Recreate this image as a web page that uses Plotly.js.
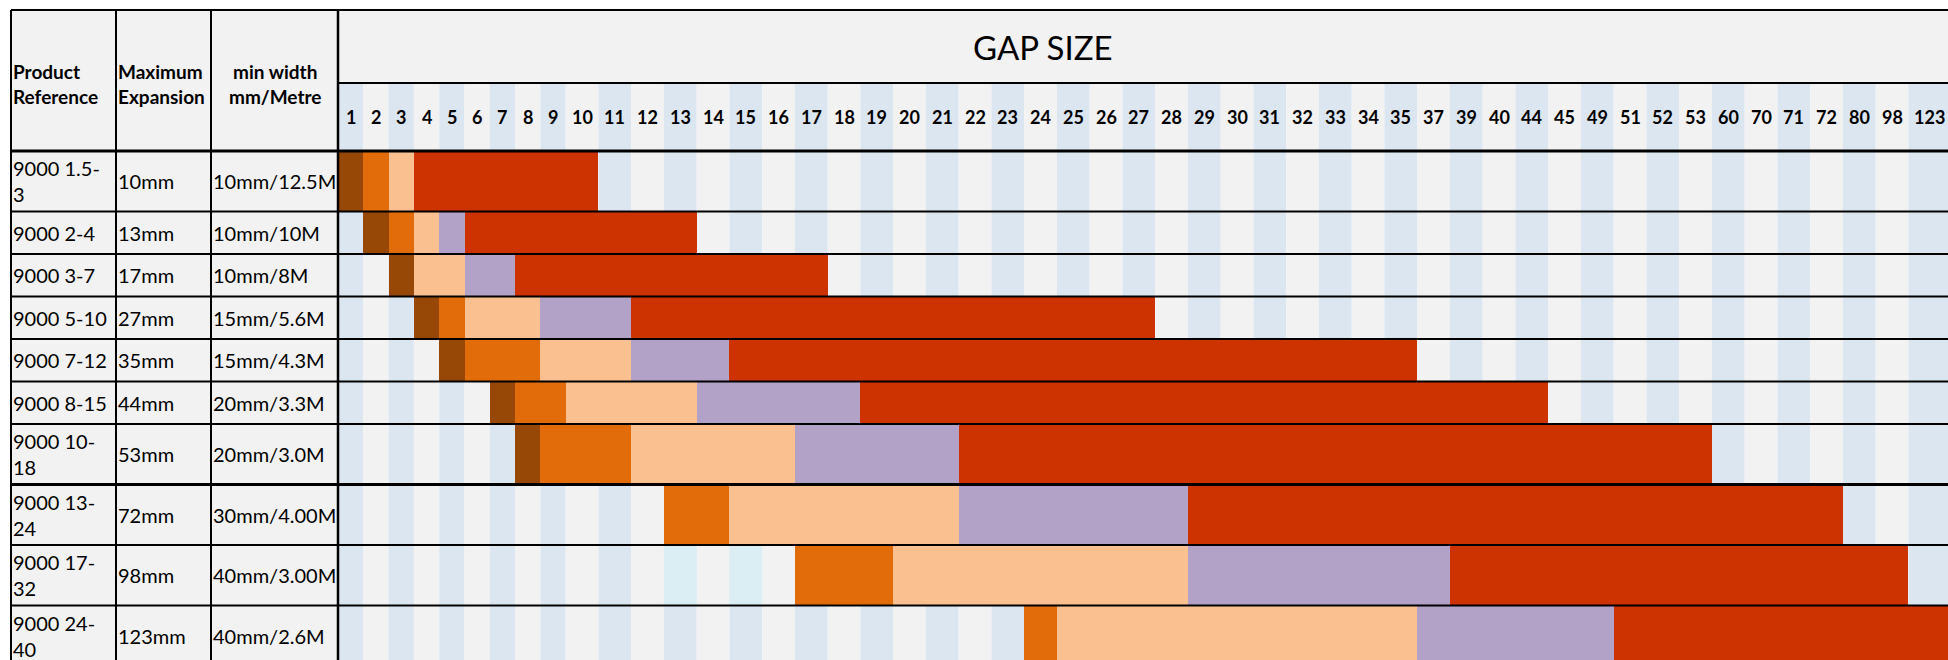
<!DOCTYPE html>
<html>
<head>
<meta charset="utf-8">
<script src="https://cdn.plot.ly/plotly-3.0.1.min.js"></script>
<style>
  html, body { margin: 0; padding: 0; background: #ffffff; }
  #chart { width: 1948px; height: 660px; }
</style>
</head>
<body>
<div id="chart"></div>
<script>
// ---------------- DATA ----------------
const gapSizes = [1, 2, 3, 4, 5, 6, 7, 8, 9, 10, 11, 12, 13, 14, 15, 16, 17, 18, 19, 20,
  21, 22, 23, 24, 25, 26, 27, 28, 29, 30, 31, 32, 33, 34, 35, 37, 39, 40, 44, 45,
  49, 51, 52, 53, 60, 70, 71, 72, 80, 98, 123];

const products = ["9000 1.5-3", "9000 2-4", "9000 3-7", "9000 5-10", "9000 7-12",
  "9000 8-15", "9000 10-18", "9000 13-24", "9000 17-32", "9000 24-40"];
const maxExpansion = ["10mm", "13mm", "17mm", "27mm", "35mm", "44mm", "53mm", "72mm", "98mm", "123mm"];
const minWidth = ["10mm/12.5M", "10mm/10M", "10mm/8M", "15mm/5.6M", "15mm/4.3M",
  "20mm/3.3M", "20mm/3.0M", "30mm/4.00M", "40mm/3.00M", "40mm/2.6M"];

// gap-size ranges (from / to, inclusive) of each coloured band, per product
const band1From = [1, 2, 3, 4, 5, 7, 8, null, null, null];
const band1To   = [1, 2, 3, 4, 5, 7, 8, null, null, null];
const band2From = [2, 3, null, 5, 6, 8, 9, 13, 17, 24];
const band2To   = [2, 3, null, 5, 8, 9, 11, 14, 19, 24];
const band3From = [3, 4, 4, 6, 9, 10, 12, 15, 20, 25];
const band3To   = [3, 4, 5, 8, 11, 13, 16, 21, 28, 35];
const band4From = [null, 5, 6, 9, 12, 14, 17, 22, 29, 37];
const band4To   = [null, 5, 7, 11, 14, 18, 21, 28, 37, 49];
const band5From = [4, 6, 8, 12, 15, 19, 22, 29, 39, 51];
const band5To   = [10, 13, 17, 27, 35, 44, 53, 72, 98, 123];

// cells shaded light cyan
const highlightProduct = "9000 17-32";
const highlightGaps = [13, 15];

// ---------------- LAYOUT / STYLE ----------------
const W = 1948, H = 660;
const FONT = 'Lato, "Open Sans", sans-serif';
const TABLE_X0 = 11, TABLE_Y0 = 10;
const LEFT_COL_W = [105, 95, 127];
const TITLE_ROW_H = 73, NUM_ROW_H = 68;
const ROW_H_ONE_LINE = 42.5, ROW_H_TWO_LINES = 60.5;
const GAP_W_BY_DIGITS = {1: 25.3, 2: 32.75, 3: 43};
const PRODUCT_MAX_CHARS = 9;
const THICK_LINE_AFTER_ROW = 6;
const BODY_SIZE = 20, HEAD_SIZE = 19, NUM_SIZE = 18, TITLE_SIZE = 33;

const C_BLUE = '#DCE6F1', C_GREY = '#F2F2F2', C_CYAN = '#DAEEF3';
const BAND_COLORS = ['#974806', '#E36C0A', '#FAC090', '#B3A2C7', '#CC3300'];

// column geometry
const leftEdges = [TABLE_X0];
LEFT_COL_W.forEach(w => leftEdges.push(leftEdges[leftEdges.length - 1] + w));
const GAP_X0 = leftEdges[3];
const colL = [], colR = [];
let cx = GAP_X0;
gapSizes.forEach(g => {
  colL.push(cx);
  cx += GAP_W_BY_DIGITS[String(g).length];
  colR.push(cx);
});
const idx = g => gapSizes.indexOf(g);

// row geometry
const titleBottom = TABLE_Y0 + TITLE_ROW_H;
const headerBottom = titleBottom + NUM_ROW_H;
function wrapProduct(s) {
  if (s.length <= PRODUCT_MAX_CHARS) return [s];
  const k = s.lastIndexOf('-');
  return [s.slice(0, k + 1), s.slice(k + 1)];
}
const rowTop = [], rowBot = [], rowLines = [];
let cy = headerBottom;
products.forEach(p => {
  const lines = wrapProduct(p);
  rowLines.push(lines);
  rowTop.push(cy);
  cy += lines.length > 1 ? ROW_H_TWO_LINES : ROW_H_ONE_LINE;
  rowBot.push(cy);
});
const tableBottom = Math.max(cy, H);
const rowMid = rowTop.map((t, i) => (t + rowBot[i]) / 2);
const rowHt = rowTop.map((t, i) => rowBot[i] - t);

// ---------------- SHAPES ----------------
const shapes = [];
function rect(x0, x1, y0, y1, color, layer) {
  shapes.push({type: 'rect', xref: 'x', yref: 'y', x0, x1, y0, y1,
    fillcolor: color, line: {width: 0}, layer: layer || 'below'});
}
function line(x0, x1, y0, y1, w) {
  shapes.push({type: 'line', xref: 'x', yref: 'y', x0, x1, y0, y1,
    line: {color: '#000000', width: w}, layer: 'above'});
}
// backgrounds
rect(TABLE_X0, GAP_X0, TABLE_Y0, tableBottom, C_GREY);
rect(GAP_X0, W + 10, TABLE_Y0, titleBottom, C_GREY);
gapSizes.forEach((g, j) => rect(colL[j], colR[j], titleBottom, tableBottom, j % 2 === 0 ? C_BLUE : C_GREY));
// highlighted cells
const hr = products.indexOf(highlightProduct);
highlightGaps.forEach(g => { const j = idx(g); rect(colL[j], colR[j], rowTop[hr], rowBot[hr], C_CYAN); });

// ---------------- BAR TRACES ----------------
const bands = [[band1From, band1To], [band2From, band2To], [band3From, band3To], [band4From, band4To], [band5From, band5To]];
const traces = bands.map(([fr, to], b) => {
  const y = [], x = [], base = [], width = [], text = [];
  products.forEach((p, i) => {
    if (fr[i] === null) return;
    const l = colL[idx(fr[i])], r = colR[idx(to[i])];
    y.push(rowMid[i]); base.push(l); x.push(r - l); width.push(rowHt[i]);
    text.push(p + ': ' + fr[i] + '–' + to[i] + ' mm');
  });
  return {type: 'bar', orientation: 'h', y, x, base, width, text,
    textposition: 'none', hovertemplate: '%{text}<extra></extra>',
    marker: {color: BAND_COLORS[b], line: {width: 0}}, name: 'Band ' + (b + 1), showlegend: false};
});

// ---------------- LINES ----------------
line(TABLE_X0, W + 10, TABLE_Y0, TABLE_Y0, 2);
leftEdges.forEach((x, k) => line(x, x, TABLE_Y0, tableBottom, k === 3 ? 2.5 : 2));
line(GAP_X0, W + 10, titleBottom, titleBottom, 2);
line(TABLE_X0, W + 10, headerBottom, headerBottom, 3);
rowBot.forEach((y, i) => { if (y < H) line(TABLE_X0, W + 10, y, y, i === THICK_LINE_AFTER_ROW ? 3 : 2); });

// ---------------- TEXT ----------------
const ann = [];
function txt(x, y, text, size, xanchor, extra) {
  ann.push(Object.assign({xref: 'x', yref: 'y', x, y, text, showarrow: false,
    xanchor: xanchor || 'left', yanchor: 'middle', align: xanchor === 'center' ? 'center' : 'left',
    font: {family: FONT, size, color: '#000000'}}, extra || {}));
}
const headerMid = (TABLE_Y0 + headerBottom) / 2 + 3;
txt(leftEdges[0], headerMid, '<b>Product<br>Reference</b>', HEAD_SIZE);
txt(leftEdges[1], headerMid, '<b>Maximum<br>Expansion</b>', HEAD_SIZE);
txt((leftEdges[2] + leftEdges[3]) / 2, headerMid, '<b>min width<br>mm/Metre</b>', HEAD_SIZE, 'center');
txt(1043, (TABLE_Y0 + titleBottom) / 2, 'GAP SIZE', TITLE_SIZE, 'center');
gapSizes.forEach((g, j) => txt((colL[j] + colR[j]) / 2, (titleBottom + headerBottom) / 2, '<b>' + g + '</b>', NUM_SIZE, 'center'));
products.forEach((p, i) => {
  txt(leftEdges[0], rowMid[i], rowLines[i].join('<br>'), BODY_SIZE);
  txt(leftEdges[1], rowMid[i], maxExpansion[i], BODY_SIZE);
  txt(leftEdges[2], rowMid[i], minWidth[i], BODY_SIZE);
});

const layout = {
  width: W, height: H,
  margin: {l: 0, r: 0, t: 0, b: 0, pad: 0},
  paper_bgcolor: '#ffffff', plot_bgcolor: '#ffffff',
  barmode: 'overlay', bargap: 0,
  xaxis: {range: [0, W], visible: false, fixedrange: true},
  yaxis: {range: [H, 0], visible: false, fixedrange: true},
  shapes, annotations: ann, showlegend: false,
  font: {family: FONT}
};
Plotly.newPlot('chart', traces, layout, {displayModeBar: false, staticPlot: true});
</script>
</body>
</html>
